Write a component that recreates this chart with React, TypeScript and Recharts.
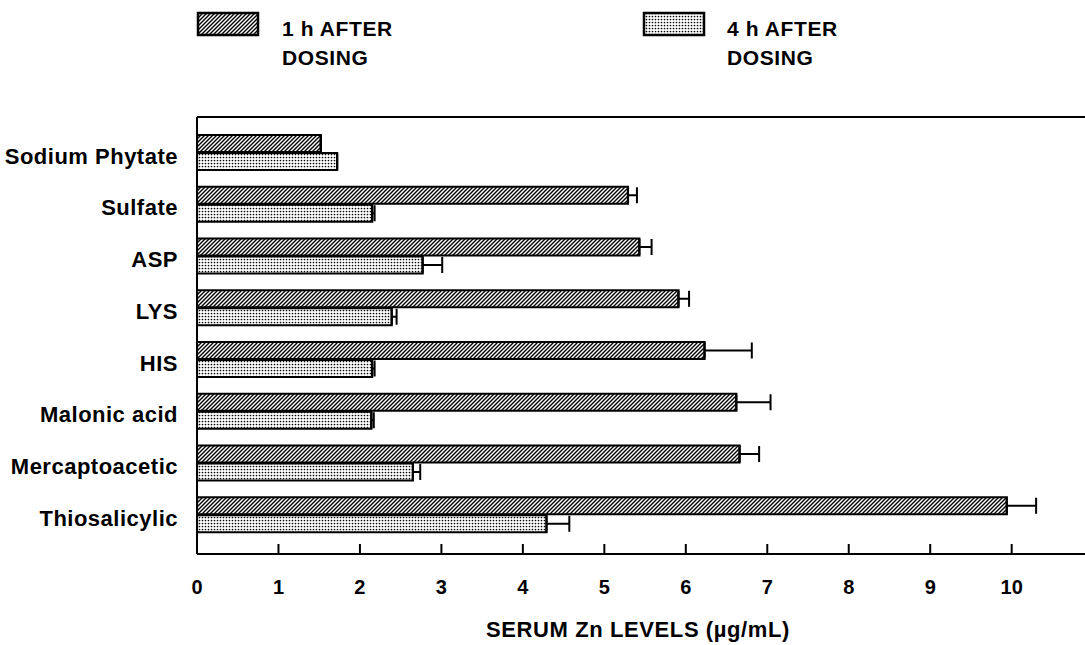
import React from 'react';
import { BarChart, Bar, XAxis, YAxis, ErrorBar, Legend, Label } from 'recharts';

const categories = ['Sodium Phytate', 'Sulfate', 'ASP', 'LYS', 'HIS', 'Malonic acid', 'Mercaptoacetic', 'Thiosalicylic'];
const oneHour = [1.52, 5.29, 5.43, 5.91, 6.23, 6.62, 6.66, 9.94];
const oneHourErr = [0, 0.11, 0.15, 0.13, 0.58, 0.42, 0.24, 0.36];
const fourHour = [1.72, 2.15, 2.77, 2.39, 2.15, 2.14, 2.65, 4.29];
const fourHourErr = [0, 0.03, 0.24, 0.06, 0.03, 0.03, 0.09, 0.28];
const xTicks = [0, 1, 2, 3, 4, 5, 6, 7, 8, 9, 10];
const seriesNames = ['1 h AFTER', '4 h AFTER'];

const data = categories.map((c, i) => ({
  name: c,
  h1: oneHour[i],
  h1e: [0, oneHourErr[i]],
  h4: fourHour[i],
  h4e: [0, fourHourErr[i]],
}));

const FONT = '"Liberation Sans", Arial, Helvetica, sans-serif';

const PatternDefs = ({ prefix }: { prefix: string }) => (
  <defs>
    <pattern id={`${prefix}hatch`} patternUnits="userSpaceOnUse" width="4" height="4">
      <rect width="4" height="4" fill="#fff" />
      <path d="M-1,1 l2,-2 M0,4 l4,-4 M3,5 l2,-2" stroke="#000" strokeWidth="1.4" />
    </pattern>
    <pattern id={`${prefix}dots`} patternUnits="userSpaceOnUse" width="3" height="3">
      <rect width="3" height="3" fill="#fff" />
      <circle cx="1.5" cy="1.5" r="0.85" fill="#000" />
    </pattern>
  </defs>
);

const LegendContent = () => (
  <svg width={1085} height={80} style={{ display: 'block' }}>
    <PatternDefs prefix="lg" />
    <rect x={198} y={13} width={60} height={22} fill="url(#lghatch)" stroke="#000" strokeWidth={2.5} />
    <text x={282} y={36} fontFamily={FONT} fontWeight="bold" fontSize={21} letterSpacing={0.6} fill="#000">
      {seriesNames[0]}
    </text>
    <text x={282} y={65} fontFamily={FONT} fontWeight="bold" fontSize={21} letterSpacing={0.6} fill="#000">
      DOSING
    </text>
    <rect x={644} y={13} width={60} height={22} fill="url(#lgdots)" stroke="#000" strokeWidth={2.5} />
    <text x={727} y={36} fontFamily={FONT} fontWeight="bold" fontSize={21} letterSpacing={0.6} fill="#000">
      {seriesNames[1]}
    </text>
    <text x={727} y={65} fontFamily={FONT} fontWeight="bold" fontSize={21} letterSpacing={0.6} fill="#000">
      DOSING
    </text>
  </svg>
);

export default function App() {
  return (
    <div style={{ position: 'absolute', left: 0, top: 0, width: 1085, height: 645, background: '#fff' }}>
      <BarChart
        width={1085}
        height={645}
        data={data}
        layout="vertical"
        margin={{ top: 116, right: 0, bottom: 0, left: 0 }}
        barCategoryGap={8}
        barGap={1}
      >
        <PatternDefs prefix="ch" />
        <Legend
          layout="vertical"
          align="center"
          verticalAlign="middle"
          wrapperStyle={{ position: 'absolute', top: 0, left: 0, width: 1085, height: 80 }}
          content={() => <LegendContent />}
        />
        <XAxis
          type="number"
          xAxisId={0}
          domain={[0, 10.9]}
          ticks={xTicks}
          allowDataOverflow
          height={91}
          axisLine={{ stroke: '#000', strokeWidth: 2 }}
          tickLine={{ stroke: '#000', strokeWidth: 2 }}
          tickSize={-10}
          tickMargin={36}
          tick={{ fill: '#000', fontFamily: FONT, fontWeight: 'bold', fontSize: 20 }}
        >
          <Label
            value="SERUM Zn LEVELS (µg/mL)"
            position="insideBottom"
            offset={8}
            dx={-3}
            style={{ fill: '#000', fontFamily: FONT, fontWeight: 'bold', fontSize: 22, letterSpacing: 0.6 }}
          />
        </XAxis>
        <XAxis
          type="number"
          xAxisId="top"
          orientation="top"
          domain={[0, 10.9]}
          height={1}
          tick={false}
          tickLine={false}
          axisLine={{ stroke: '#000', strokeWidth: 2 }}
        />
        <YAxis
          type="category"
          dataKey="name"
          width={197}
          padding={{ top: 10, bottom: 13 }}
          axisLine={{ stroke: '#000', strokeWidth: 2 }}
          tickLine={false}
          tickSize={0}
          tickMargin={19}
          interval={0}
          tick={{ fill: '#000', fontFamily: FONT, fontWeight: 'bold', fontSize: 22, letterSpacing: 0.5, dy: 3 }}
        />
        <Bar dataKey="h1" name="1 h AFTER DOSING" fill="url(#chhatch)" stroke="#000" strokeWidth={2.2} isAnimationActive={false}>
          <ErrorBar dataKey="h1e" direction="x" width={8} stroke="#000" strokeWidth={2} isAnimationActive={false} />
        </Bar>
        <Bar dataKey="h4" name="4 h AFTER DOSING" fill="url(#chdots)" stroke="#000" strokeWidth={2.2} isAnimationActive={false}>
          <ErrorBar dataKey="h4e" direction="x" width={8} stroke="#000" strokeWidth={2} isAnimationActive={false} />
        </Bar>
      </BarChart>
    </div>
  );
}
